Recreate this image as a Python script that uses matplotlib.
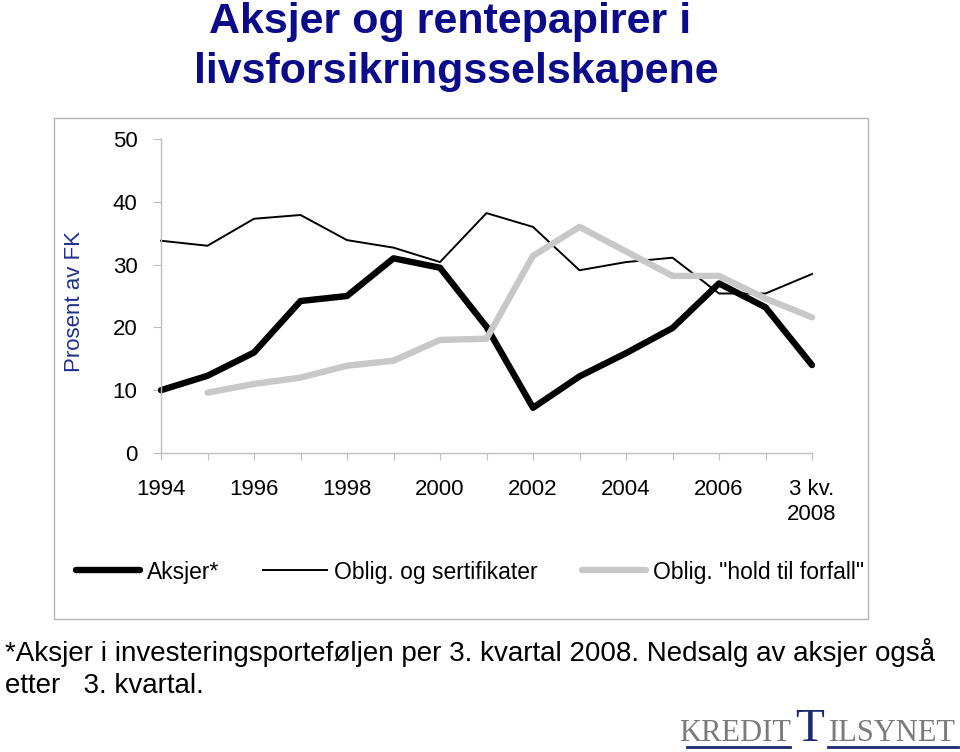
import numpy as np
import matplotlib
matplotlib.use("Agg")
import matplotlib.pyplot as plt
from matplotlib.patches import Rectangle
from matplotlib.lines import Line2D

plt.rcParams['font.family'] = ['Liberation Sans', 'DejaVu Sans']

# data (prosent av FK)
periods = ['1994', '1995', '1996', '1997', '1998', '1999', '2000', '2001',
           '2002', '2003', '2004', '2005', '2006', '2007', '3 kv.\n2008']
aksjer = [10.0, 12.3, 16.0, 24.2, 25.0, 31.0, 29.5, 20.1,
          7.2, 12.2, 15.9, 19.9, 27.0, 23.2, 14.0]
oblig_sert = [33.8, 33.0, 37.3, 37.9, 33.9, 32.7, 30.4, 38.2,
              36.0, 29.1, 30.4, 31.1, 25.4, 25.4, 28.5]
oblig_htm = [None, 9.6, 11.0, 12.0, 13.9, 14.7, 18.0, 18.2,
             31.4, 36.0, 32.1, 28.2, 28.2, 24.6, 21.6]
series_names = ['Aksjer*', 'Oblig. og sertifikater', 'Oblig. "hold til forfall"']

W, H = 960, 752
fig = plt.figure(figsize=(W / 100, H / 100), dpi=100)

# outer chart box
fig.patches.append(Rectangle((54 / W, 1 - 619 / H), (868 - 54) / W, (619 - 118) / H,
                             transform=fig.transFigure, fill=False,
                             edgecolor='#b4b4b4', lw=1))

ax = fig.add_axes([161 / W, 299 / H, (812 - 161) / W, (613 - 299) / H])

x = np.arange(len(periods))
htm = np.array([np.nan if v is None else v for v in oblig_htm])

l1, = ax.plot(x, aksjer, color='black', lw=4.6, clip_on=False,
              solid_capstyle='round', solid_joinstyle='round')
l2, = ax.plot(x, oblig_sert, color='black', lw=1.4, clip_on=False)
l3, = ax.plot(x, htm, color='#c8c8c8', lw=4.6, clip_on=False,
              solid_capstyle='round', solid_joinstyle='round')

ax.set_xlim(0, len(periods) - 1)
ax.set_ylim(0, 50)
ax.set_yticks(range(0, 51, 10))
ax.set_xticks(x)
ax.set_xticklabels([p if i % 2 == 0 else '' for i, p in enumerate(periods)])

for s in ['top', 'right']:
    ax.spines[s].set_visible(False)
for s in ['left', 'bottom']:
    ax.spines[s].set_color('#bfbfbf')
    ax.spines[s].set_linewidth(1)

ax.tick_params(axis='x', direction='out', length=5, color='#bfbfbf',
               labelsize=16, pad=14)
ax.tick_params(axis='y', direction='out', length=6, color='#bfbfbf',
               labelsize=16, pad=11)

# y label
fig.text(75 / W, 1 - 301 / H, 'Prosent av FK', rotation=90, ha='center',
         va='center', fontsize=16, color='#1f2f8f')

# title
fig.text(450 / W, 1 - 33 / H, 'Aksjer og rentepapirer i', ha='center',
         va='baseline', fontsize=31, fontweight='bold', color='#0c0c8a')
fig.text(456 / W, 1 - 83 / H, 'livsforsikringsselskapene', ha='center',
         va='baseline', fontsize=31, fontweight='bold', color='#0c0c8a')

# legend
fig.legend([l1, l2, l3], series_names, loc='center',
           bbox_to_anchor=(470 / W, 1 - 572 / H), ncol=3, frameon=False,
           fontsize=16.5, handlelength=2.8, handletextpad=0.3,
           columnspacing=1.9, borderpad=0)

# footnote
fig.text(5 / W, 1 - 661 / H,
         '*Aksjer i investeringsporteføljen per 3. kvartal 2008. Nedsalg av aksjer også',
         ha='left', va='baseline', fontsize=20)
fig.text(5 / W, 1 - 693 / H, 'etter   3. kvartal.', ha='left', va='baseline',
         fontsize=20)

# logo
navy = '#1c2a6e'
fig.text(791 / W, 1 - 741 / H, 'KREDIT', ha='right', va='baseline',
         fontsize=22, family='Liberation Serif', color='#7a7a7a')
fig.text(810 / W, 1 - 741 / H, 'T', ha='center', va='baseline',
         fontsize=34, family='Liberation Serif', color=navy)
fig.text(829 / W, 1 - 741 / H, 'ILSYNET', ha='left', va='baseline',
         fontsize=22, family='Liberation Serif', color='#7a7a7a')
fig.add_artist(Line2D([687 / W, 790 / W], [1 - 747 / H] * 2, color=navy, lw=2))
fig.add_artist(Line2D([828 / W, 958 / W], [1 - 747 / H] * 2, color=navy, lw=2))

fig.savefig('out.png', dpi=100)
